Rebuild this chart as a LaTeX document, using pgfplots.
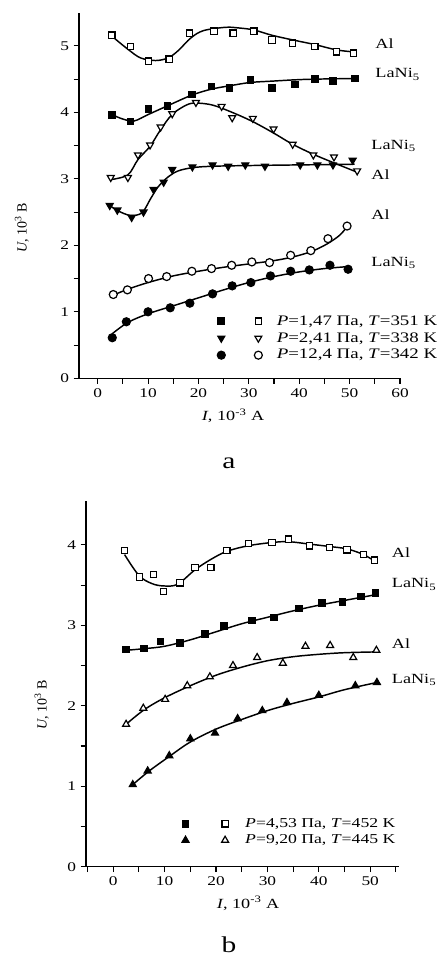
\documentclass[border=0pt]{standalone}
\usepackage{fontspec}
\setmainfont{Liberation Serif}[FakeStretch=1.3]
\newfontfamily\rotfont{Liberation Serif}
\usepackage{pgfplots}
\pgfplotsset{compat=1.18}

\pgfplotsset{
  panel/.style={
    scale only axis,
    axis lines*=left,
    axis line style={line width=0.9pt, -},
    tick align=outside,
    tick style={black, line width=0.8pt},
    major tick length=4pt,
    minor tick length=4pt,
    tick label style={font=\fontsize{10}{12}\selectfont},
    /pgf/number format/assume math mode=true,
    clip=false,
    legend cell align=left,
    legend columns=2,
  },
  fitline/.style={black, line width=1.1pt, smooth, tension=0.55, no markers, forget plot},
  pts/.style={only marks, forget plot},
  fsq/.style={mark=square*, mark size=2.4pt, mark options={fill=black, line width=0.9pt, solid}},
  osq/.style={mark=square*, mark size=2.4pt, mark options={fill=white, line width=0.9pt, solid}},
  ftrd/.style={mark=triangle*, mark size=3pt, mark options={fill=black, rotate=180, line width=0.9pt, solid}},
  otrd/.style={mark=triangle*, mark size=3pt, mark options={fill=white, rotate=180, line width=0.9pt, solid}},
  ftru/.style={mark=triangle*, mark size=3pt, mark options={fill=black, line width=0.9pt, solid}},
  otru/.style={mark=triangle*, mark size=3pt, mark options={fill=white, line width=0.9pt, solid}},
  fcir/.style={mark=*, mark size=3pt, mark options={fill=black, line width=0.9pt, solid}},
  ocir/.style={mark=*, mark size=3pt, mark options={fill=white, line width=0.9pt, solid}},
}
\newcommand{\lbl}{\fontsize{10.5}{12}\selectfont}

\begin{document}
\begin{tikzpicture}
\useasboundingbox (0,0) rectangle (330.75pt,-717pt);

% ---------------- panel a ----------------
\begin{axis}[panel,
  at={(59.25pt,-283.7pt)}, anchor=south west,
  width=240.75pt, height=274.2pt,
  xmin=-3.7, xmax=60, ymin=0, ymax=5.5,
  xtick={0,10,...,60}, minor xtick={5,15,...,55},
  ytick={0,1,...,5}, minor ytick={0.5,1.5,...,4.5},
  xlabel={\lbl\textit{I}, 10\textsuperscript{-3} А},
  xlabel style={at={(axis description cs:0.48,-0.103)}, anchor=center},
  ylabel={\rotfont\fontsize{10.5}{12}\selectfont\textit{U}, 10\textsuperscript{3} В},
  ylabel style={at={(axis description cs:-0.178,0.411)}, anchor=center},
  legend style={draw=none, fill=none, inner sep=0pt,
    font=\fontsize{10.9}{13}\selectfont, row sep=0pt,
    at={(axis description cs:0.430,0.180)}, anchor=north west,
    /tikz/every odd column/.append style={column sep=8.8pt},
    /tikz/every even column/.append style={column sep=9pt}},
]
% fitted curves
\addplot[fitline] coordinates {(3.4,5.11) (6,4.95) (8.5,4.82) (11.5,4.78) (14,4.82) (16,4.93) (18.5,5.12) (21,5.23) (25.4,5.28) (28,5.27) (31,5.24) (34.6,5.16) (38.7,5.09) (43.1,5.02) (47.4,4.94) (50.8,4.91)};
\addplot[fitline] coordinates {(3,3.96) (5,3.9) (7.2,3.87) (10.1,3.97) (13.9,4.1) (18.7,4.26) (22.6,4.35) (26.2,4.40) (30.3,4.45) (34.6,4.47) (39.2,4.49) (43.1,4.50) (51.1,4.51)};
\addplot[fitline] coordinates {(2.7,2.99) (6,3.06) (8,3.29) (10.4,3.49) (12.5,3.74) (14.8,3.97) (17.6,4.11) (19.5,4.14) (22.8,4.11) (26.7,4.0) (30.8,3.86) (34.9,3.69) (38.7,3.52) (42.8,3.37) (46.9,3.24) (51.5,3.10)};
\addplot[fitline] coordinates {(2.4,2.60) (4,2.52) (6.5,2.45) (8.8,2.49) (10.5,2.7) (12,2.88) (14,3.03) (16,3.12) (19,3.17) (23,3.19) (30,3.20) (40,3.21) (51,3.22)};
\addplot[fitline] coordinates {(3.1,1.25) (6,1.34) (10,1.44) (15,1.54) (20,1.61) (25,1.67) (30,1.72) (35,1.77) (39,1.83) (42.5,1.91) (45.5,2.02) (48,2.15) (49.5,2.28)};
\addplot[fitline] coordinates {(2.9,0.67) (6,0.84) (10,0.97) (15,1.09) (20,1.21) (25,1.33) (30,1.44) (35,1.53) (40,1.6) (45,1.65) (49.7,1.68)};
% measured points
\addplot[pts, osq] coordinates {(2.8,5.16) (6.5,4.99) (10.1,4.77) (14.2,4.80) (18.2,5.19) (23.1,5.22) (26.9,5.19) (31.0,5.22) (34.6,5.09) (38.7,5.04) (43.1,4.99) (47.4,4.91) (50.8,4.89)};
\addplot[pts, fsq] coordinates {(2.9,3.96) (6.5,3.86) (10.1,4.05) (13.9,4.10) (18.7,4.27) (22.6,4.39) (26.2,4.37) (30.3,4.49) (34.6,4.37) (39.2,4.42) (43.1,4.50) (46.7,4.47) (51.1,4.51)};
\addplot[pts, otrd] coordinates {(2.6,3.02) (6.0,3.02) (8.0,3.36) (10.4,3.51) (12.5,3.78) (14.8,3.98) (19.5,4.15) (24.6,4.09) (26.7,3.92) (30.8,3.91) (34.9,3.75) (38.7,3.52) (42.8,3.36) (46.9,3.33) (51.5,3.12)};
\addplot[pts, ftrd] coordinates {(2.4,2.60) (3.9,2.53) (6.75,2.42) (9.1,2.50) (11.1,2.84) (13.1,2.95) (14.8,3.14) (18.8,3.18) (22.8,3.21) (25.9,3.19) (29.3,3.21) (33.2,3.19) (40.2,3.21) (43.6,3.21) (46.7,3.21) (50.6,3.28)};
\addplot[pts, ocir] coordinates {(3.1,1.26) (5.9,1.33) (10.1,1.50) (13.7,1.53) (18.7,1.61) (22.6,1.65) (26.6,1.70) (30.6,1.75) (34.1,1.74) (38.3,1.85) (42.3,1.92) (45.7,2.10) (49.5,2.29)};
\addplot[pts, fcir] coordinates {(2.9,0.61) (5.7,0.85) (10.0,1.00) (14.4,1.06) (18.3,1.13) (22.8,1.27) (26.7,1.39) (30.4,1.44) (34.3,1.54) (38.3,1.61) (42.0,1.63) (46.1,1.70) (49.7,1.64)};
% legend
\addlegendimage{only marks, fsq}
\addlegendentry{}
\addlegendimage{only marks, osq}
\addlegendentry{\textit{P}=1,47 Па, \textit{T}=351 K}
\addlegendimage{only marks, ftrd}
\addlegendentry{}
\addlegendimage{only marks, otrd}
\addlegendentry{\textit{P}=2,41 Па, \textit{T}=338 K}
\addlegendimage{only marks, fcir}
\addlegendentry{}
\addlegendimage{only marks, ocir}
\addlegendentry{\textit{P}=12,4 Па, \textit{T}=342 K}
% curve labels
\node[anchor=west, font=\lbl] at (axis cs:54.2,5.03) {Al};
\node[anchor=west, font=\lbl] at (axis cs:54.2,4.57) {LaNi\textsubscript{5}};
\node[anchor=west, font=\lbl] at (axis cs:53.4,3.49) {LaNi\textsubscript{5}};
\node[anchor=west, font=\lbl] at (axis cs:53.4,3.07) {Al};
\node[anchor=west, font=\lbl] at (axis cs:53.4,2.46) {Al};
\node[anchor=west, font=\lbl] at (axis cs:53.4,1.74) {LaNi\textsubscript{5}};
\end{axis}
\node[font=\fontsize{17}{20}\selectfont] at (171.75pt,-347.5pt) {a};

% ---------------- panel b ----------------
\begin{axis}[panel,
  at={(64.5pt,-650pt)}, anchor=south west,
  width=234.75pt, height=274.5pt,
  xmin=-5.3, xmax=55.6, ymin=0, ymax=4.55,
  xtick={0,10,...,50}, minor xtick={-5,5,...,55},
  ytick={0,1,...,4}, minor ytick={0.5,1.5,...,3.5},
  xlabel={\lbl\textit{I}, 10\textsuperscript{-3} А},
  xlabel style={at={(axis description cs:0.518,-0.100)}, anchor=center},
  ylabel={\rotfont\fontsize{10.5}{12}\selectfont\textit{U}, 10\textsuperscript{3} В},
  ylabel style={at={(axis description cs:-0.1415,0.442)}, anchor=center},
  legend style={draw=none, fill=none, inner sep=0pt,
    font=\fontsize{10.2}{12}\selectfont,
    at={(axis description cs:0.306,0.140)}, anchor=north west,
    /tikz/every odd column/.append style={column sep=10.5pt},
    /tikz/every even column/.append style={column sep=10pt}},
]
\addplot[fitline] coordinates {(2.2,3.88) (5,3.62) (7.5,3.52) (9.8,3.49) (12.5,3.51) (15.9,3.69) (19,3.82) (22.1,3.92) (26.3,3.99) (30.9,4.03) (34.1,4.04) (38.2,4.01) (42.1,3.98) (45.5,3.95) (48.7,3.88) (50.8,3.80)};
\addplot[fitline] coordinates {(2.5,2.69) (6,2.71) (10,2.74) (15,2.82) (20,2.92) (25,3.02) (30,3.1) (35,3.18) (40,3.25) (45,3.31) (51,3.38)};
\addplot[fitline] coordinates {(2.5,1.77) (6,1.95) (10,2.1) (15,2.25) (20,2.38) (25,2.48) (30,2.56) (35,2.61) (40,2.64) (45,2.66) (51.2,2.67)};
\addplot[fitline] coordinates {(3.8,1.02) (7,1.19) (10.9,1.37) (15,1.55) (20,1.71) (25,1.83) (30,1.94) (35,2.03) (40,2.11) (45,2.2) (51.3,2.29)};
\addplot[pts, osq] coordinates {(2.2,3.93) (5.1,3.60) (7.8,3.63) (9.8,3.42) (13.0,3.53) (15.9,3.72) (19.0,3.72) (22.1,3.93) (26.3,4.02) (30.9,4.03) (34.1,4.07) (38.2,3.99) (42.1,3.97) (45.5,3.94) (48.7,3.88) (50.8,3.81)};
\addplot[pts, fsq] coordinates {(2.5,2.70) (6.0,2.71) (9.2,2.80) (13.0,2.78) (17.8,2.89) (21.6,2.99) (27.0,3.06) (31.3,3.10) (36.1,3.21) (40.6,3.28) (44.6,3.29) (48.2,3.36) (51.0,3.40)};
\addplot[pts, otru] coordinates {(2.5,1.77) (5.85,1.97) (10.1,2.08) (14.4,2.25) (18.8,2.36) (23.3,2.50) (28.0,2.60) (33.0,2.53) (37.4,2.74) (42.2,2.75) (46.7,2.60) (51.2,2.69)};
\addplot[pts, ftru] coordinates {(3.8,1.02) (6.7,1.19) (10.9,1.38) (15.0,1.59) (19.8,1.66) (24.2,1.84) (29.0,1.94) (33.8,2.04) (40.0,2.13) (47.1,2.25) (51.3,2.29)};
\addlegendimage{only marks, fsq}
\addlegendentry{}
\addlegendimage{only marks, osq}
\addlegendentry{\textit{P}=4,53 Па, \textit{T}=452 K}
\addlegendimage{only marks, ftru}
\addlegendentry{}
\addlegendimage{only marks, otru}
\addlegendentry{\textit{P}=9,20 Па, \textit{T}=445 K}
\node[anchor=west, font=\lbl] at (axis cs:53.3,3.91) {Al};
\node[anchor=west, font=\lbl] at (axis cs:53.3,3.51) {LaNi\textsubscript{5}};
\node[anchor=west, font=\lbl] at (axis cs:53.3,2.77) {Al};
\node[anchor=west, font=\lbl] at (axis cs:53.3,2.32) {LaNi\textsubscript{5}};
\end{axis}
\node[font=\fontsize{17}{20}\selectfont] at (171.75pt,-708.75pt) {b};
\end{tikzpicture}
\end{document}
